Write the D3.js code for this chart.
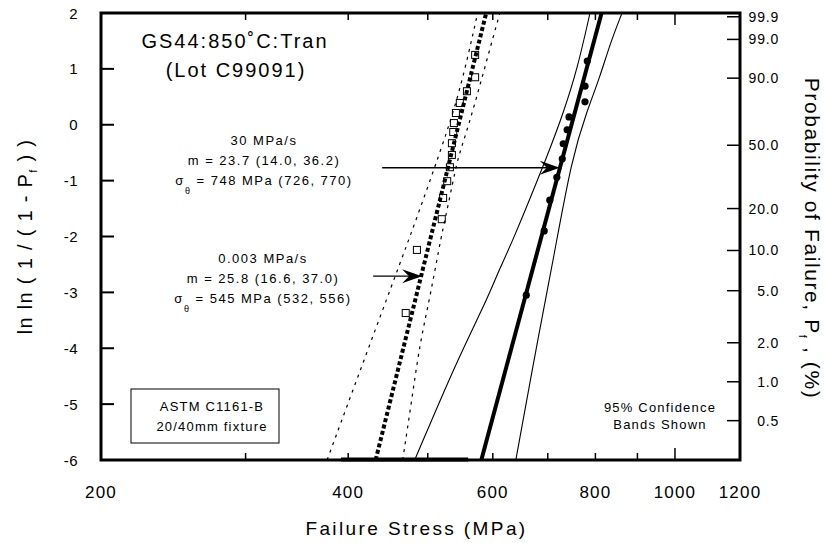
<!DOCTYPE html>
<html>
<head>
<meta charset="utf-8" />
<title>GS44:850C:Tran Weibull plot</title>
<style>
body {
    margin: 0;
    background: #fff;
}
svg text {
    font-family: "Liberation Sans", Arial, Helvetica, sans-serif;
    fill: #000;
}
</style>
</head>
<body>
<div id="graph"></div>
<script src="https://cdnjs.cloudflare.com/ajax/libs/d3/7.8.5/d3.min.js"></script>
<script>
// 0.003 MPa/s specimens (open squares): failure stress (MPa), ln ln(1/(1-Pf))
var slowStress = [470, 485, 520, 522, 528, 532, 535, 535, 537, 538, 541, 547, 558, 571, 571]
var slowLnLn   = [-3.37, -2.24, -1.69, -1.31, -1.01, -0.76, -0.54, -0.33, -0.13, 0.03, 0.21, 0.39, 0.60, 0.85, 1.25]

// 30 MPa/s specimens (filled circles)
var fastStress = [659, 693, 704, 718, 729, 731, 739, 743, 777, 777, 782]
var fastLnLn   = [-3.05, -1.90, -1.35, -0.94, -0.61, -0.34, -0.09, 0.14, 0.41, 0.69, 1.14]

// fitted lines (end points at the frame)
var slowFitStress = [432, 589]
var fastFitStress = [581, 814]
var fitLnLn = [-6, 2]

// 95% confidence bands, 0.003 MPa/s (dotted)
var slowLoStress = [377, 446, 480, 517, 547, 575]
var slowLoLnLn   = [-6, -3.10, -1.85, -0.51, 0.57, 2]
var slowHiStress = [466, 478, 489, 503, 520, 529, 543, 552, 571, 590, 612]
var slowHiLnLn   = [-6, -4.93, -3.91, -3.10, -1.94, -1.47, -0.63, -0.33, 0.39, 1.16, 2]

// 95% confidence bands, 30 MPa/s (thin solid)
var fastLoStress = [482, 543, 590, 612, 630, 704, 731, 760, 788]
var fastLoLnLn   = [-6, -4.21, -3.14, -2.56, -2.19, -0.45, 0.21, 0.98, 2]
var fastHiStress = [640, 685, 710, 749, 782, 810, 834, 862]
var fastHiLnLn   = [-6, -3.62, -2.46, -0.58, 0.26, 0.85, 1.46, 2]

// annotation arrows: [start stress, end stress, ln ln level]
var fastArrow = [440, 724, -0.77]
var slowArrow = [429, 492, -2.71]

// heavy stretch on the bottom frame
var baseStroke = [392, 560]

// axes
var xTickLabels = [200, 400, 600, 800, 1000, 1200]
var xMinorTicks = [300, 400, 500, 600, 700, 800, 900]
var xMajorTicks = [1000]
var yTicks = [-6, -5, -4, -3, -2, -1, 0, 1, 2]
var probTicks = [99.9, 99.0, 90.0, 50.0, 20.0, 10.0, 5.0, 2.0, 1.0, 0.5]

!(function(){
    "use strict"

    var width = 825, height = 543
    var margin = {top: 13, left: 101, bottom: 83, right: 85}

    var svg = d3.select("#graph").append("svg")
        .attr("width", width)
        .attr("height", height)

    var x = d3.scaleLog().domain([200, 1200]).range([margin.left, width - margin.right])
    var y = d3.scaleLinear().domain([-6, 2]).range([height - margin.bottom, margin.top])

    var x0 = x.range()[0], x1 = x.range()[1]
    var y0 = y.range()[1], y1 = y.range()[0]

    svg.append("clipPath").attr("id", "plotClip")
        .append("rect")
        .attr("x", x0).attr("y", y0)
        .attr("width", x1 - x0).attr("height", y1 - y0)

    var plot = svg.append("g").attr("clip-path", "url(#plotClip)")

    function pairs(xs, ys) {
        return xs.map(function(v, i) { return [v, ys[i]] })
    }

    var curve = d3.line()
        .x(function(d) { return x(d[0]) })
        .y(function(d) { return y(d[1]) })
        .curve(d3.curveBasis)

    var straight = d3.line()
        .x(function(d) { return x(d[0]) })
        .y(function(d) { return y(d[1]) })

    // confidence bands
    plot.append("path")
        .datum(pairs(slowLoStress, slowLoLnLn))
        .attr("d", curve)
        .attr("fill", "none").attr("stroke", "#000")
        .attr("stroke-width", 1.2).attr("stroke-dasharray", "3,5")
    plot.append("path")
        .datum(pairs(slowHiStress, slowHiLnLn))
        .attr("d", curve)
        .attr("fill", "none").attr("stroke", "#000")
        .attr("stroke-width", 1.2).attr("stroke-dasharray", "3,5")
    plot.append("path")
        .datum(pairs(fastLoStress, fastLoLnLn))
        .attr("d", curve)
        .attr("fill", "none").attr("stroke", "#000").attr("stroke-width", 1.1)
    plot.append("path")
        .datum(pairs(fastHiStress, fastHiLnLn))
        .attr("d", curve)
        .attr("fill", "none").attr("stroke", "#000").attr("stroke-width", 1.1)

    // fitted lines
    plot.append("path")
        .datum(pairs(slowFitStress, fitLnLn))
        .attr("d", straight)
        .attr("fill", "none").attr("stroke", "#000")
        .attr("stroke-width", 4).attr("stroke-dasharray", "4,2.5")
    plot.append("path")
        .datum(pairs(fastFitStress, fitLnLn))
        .attr("d", straight)
        .attr("fill", "none").attr("stroke", "#000").attr("stroke-width", 4)

    // data points
    plot.append("g").selectAll("rect")
        .data(pairs(slowStress, slowLnLn))
        .enter().append("rect")
        .attr("x", function(d) { return x(d[0]) - 3.5 })
        .attr("y", function(d) { return y(d[1]) - 3.5 })
        .attr("width", 7).attr("height", 7)
        .attr("fill", "none").attr("stroke", "#000").attr("stroke-width", 1)

    plot.append("g").selectAll("circle")
        .data(pairs(fastStress, fastLnLn))
        .enter().append("circle")
        .attr("cx", function(d) { return x(d[0]) })
        .attr("cy", function(d) { return y(d[1]) })
        .attr("r", 3.6)
        .attr("fill", "#000")

    // frame
    svg.append("rect")
        .attr("x", x0).attr("y", y0)
        .attr("width", x1 - x0).attr("height", y1 - y0)
        .attr("fill", "none").attr("stroke", "#000").attr("stroke-width", 3)

    svg.append("line")
        .attr("x1", x(baseStroke[0])).attr("x2", x(baseStroke[1]))
        .attr("y1", y1 - 0.5).attr("y2", y1 - 0.5)
        .attr("stroke", "#000").attr("stroke-width", 4)

    // x ticks, top and bottom, pointing inward
    function xTicks(vals, len) {
        vals.forEach(function(v) {
            svg.append("line")
                .attr("x1", x(v)).attr("x2", x(v))
                .attr("y1", y1).attr("y2", y1 - len)
                .attr("stroke", "#000").attr("stroke-width", 1.5)
            svg.append("line")
                .attr("x1", x(v)).attr("x2", x(v))
                .attr("y1", y0).attr("y2", y0 + len)
                .attr("stroke", "#000").attr("stroke-width", 1.5)
        })
    }
    xTicks(xMinorTicks, 7)
    xTicks(xMajorTicks, 12)

    svg.append("g").selectAll("text")
        .data(xTickLabels)
        .enter().append("text")
        .attr("x", function(d) { return x(d) })
        .attr("y", 498)
        .attr("text-anchor", "middle")
        .style("font-size", "17px")
        .style("letter-spacing", "1.2px")
        .text(function(d) { return d })

    // left axis
    svg.append("g").selectAll("line")
        .data(yTicks)
        .enter().append("line")
        .attr("x1", x0).attr("x2", x0 + 13)
        .attr("y1", function(d) { return y(d) })
        .attr("y2", function(d) { return y(d) })
        .attr("stroke", "#000").attr("stroke-width", 2)

    svg.append("g").selectAll("text")
        .data(yTicks)
        .enter().append("text")
        .attr("x", 78)
        .attr("y", function(d) { return y(d) + 5.5 })
        .attr("text-anchor", "end")
        .style("font-size", "15px")
        .style("letter-spacing", "0.5px")
        .text(function(d) { return d })

    // right axis: probability of failure
    function probY(p) { return y(Math.log(-Math.log(1 - p / 100))) }

    svg.append("g").selectAll("line")
        .data(probTicks)
        .enter().append("line")
        .attr("x1", x1 - 13).attr("x2", x1)
        .attr("y1", probY).attr("y2", probY)
        .attr("stroke", "#000").attr("stroke-width", 1.5)

    svg.append("g").selectAll("text")
        .data(probTicks)
        .enter().append("text")
        .attr("x", 779)
        .attr("y", function(d) { return probY(d) + 5 })
        .attr("text-anchor", "end")
        .style("font-size", "14px")
        .style("letter-spacing", "0.8px")
        .text(function(d) { return d.toFixed(1) })

    // axis titles
    svg.append("text")
        .attr("x", (x0 + x1) / 2 - 4)
        .attr("y", 535)
        .attr("text-anchor", "middle")
        .style("font-size", "19px")
        .style("letter-spacing", "2.4px")
        .text("Failure Stress (MPa)")

    var lt = svg.append("text")
        .attr("transform", "translate(32," + ((y0 + y1) / 2) + ") rotate(-90)")
        .attr("text-anchor", "middle")
        .style("font-size", "20px")
        .style("letter-spacing", "1.3px")
    lt.append("tspan").text("ln ln ( 1 / ( 1 - P")
    lt.append("tspan").attr("dy", 5).style("font-size", "11px").text("f")
    lt.append("tspan").attr("dy", -5).text(" ) )")

    var rt = svg.append("text")
        .attr("transform", "translate(805," + ((y0 + y1) / 2 + 2) + ") rotate(90)")
        .attr("text-anchor", "middle")
        .style("font-size", "21px")
        .style("letter-spacing", "1.6px")
    rt.append("tspan").text("Probability of Failure, P")
    rt.append("tspan").attr("dy", 6).style("font-size", "11px").text("f")
    rt.append("tspan").attr("dy", -6).text(" , (%)")

    // title
    svg.append("text")
        .attr("x", 235).attr("y", 48)
        .attr("text-anchor", "middle")
        .style("font-size", "20px")
        .style("letter-spacing", "2px")
        .text("GS44:850\u02DAC:Tran")
    svg.append("text")
        .attr("x", 236).attr("y", 77)
        .attr("text-anchor", "middle")
        .style("font-size", "20px")
        .style("letter-spacing", "2px")
        .text("(Lot C99091)")

    // rate annotations
    function rateLabel(cx, top, rate, m, s) {
        var g = svg.append("g").style("font-size", "13px").style("letter-spacing", "1.5px")
        g.append("text").attr("x", cx).attr("y", top)
            .attr("text-anchor", "middle").text(rate)
        g.append("text").attr("x", cx).attr("y", top + 20)
            .attr("text-anchor", "middle").text(m)
        var t = g.append("text").attr("x", cx).attr("y", top + 40)
            .attr("text-anchor", "middle")
        t.append("tspan").text("\u03C3")
        t.append("tspan").attr("dy", 9).style("font-size", "9px").text("\u03B8")
        t.append("tspan").attr("dy", -9).text(" = " + s)
    }
    rateLabel(264, 145, "30 MPa/s", "m = 23.7 (14.0, 36.2)", "748 MPa (726, 770)")
    rateLabel(263, 263, "0.003 MPa/s", "m = 25.8 (16.6, 37.0)", "545 MPa (532, 556)")

    function arrow(a) {
        var xs = x(a[0]), xe = x(a[1]), ya = y(a[2])
        svg.append("line")
            .attr("x1", xs).attr("x2", xe - 12)
            .attr("y1", ya).attr("y2", ya)
            .attr("stroke", "#000").attr("stroke-width", 1.3)
        svg.append("path")
            .attr("d", "M" + xe + "," + ya + "L" + (xe - 20) + "," + (ya - 7) +
                "L" + (xe - 13) + "," + ya + "L" + (xe - 20) + "," + (ya + 7) + "Z")
            .attr("fill", "#000")
    }
    arrow(fastArrow)
    arrow(slowArrow)

    // test method box
    svg.append("rect")
        .attr("x", 131).attr("y", 389)
        .attr("width", 148).attr("height", 54)
        .attr("fill", "none").attr("stroke", "#000").attr("stroke-width", 1)
    svg.append("text").attr("x", 212).attr("y", 411)
        .attr("text-anchor", "middle")
        .style("font-size", "13px").style("letter-spacing", "1.2px")
        .text("ASTM C1161-B")
    svg.append("text").attr("x", 212).attr("y", 431)
        .attr("text-anchor", "middle")
        .style("font-size", "13px").style("letter-spacing", "1.2px")
        .text("20/40mm fixture")

    svg.append("text").attr("x", 660).attr("y", 412)
        .attr("text-anchor", "middle")
        .style("font-size", "13px").style("letter-spacing", "1.2px")
        .text("95% Confidence")
    svg.append("text").attr("x", 660).attr("y", 429)
        .attr("text-anchor", "middle")
        .style("font-size", "13px").style("letter-spacing", "1.2px")
        .text("Bands Shown")
}());
</script>
</body>
</html>
